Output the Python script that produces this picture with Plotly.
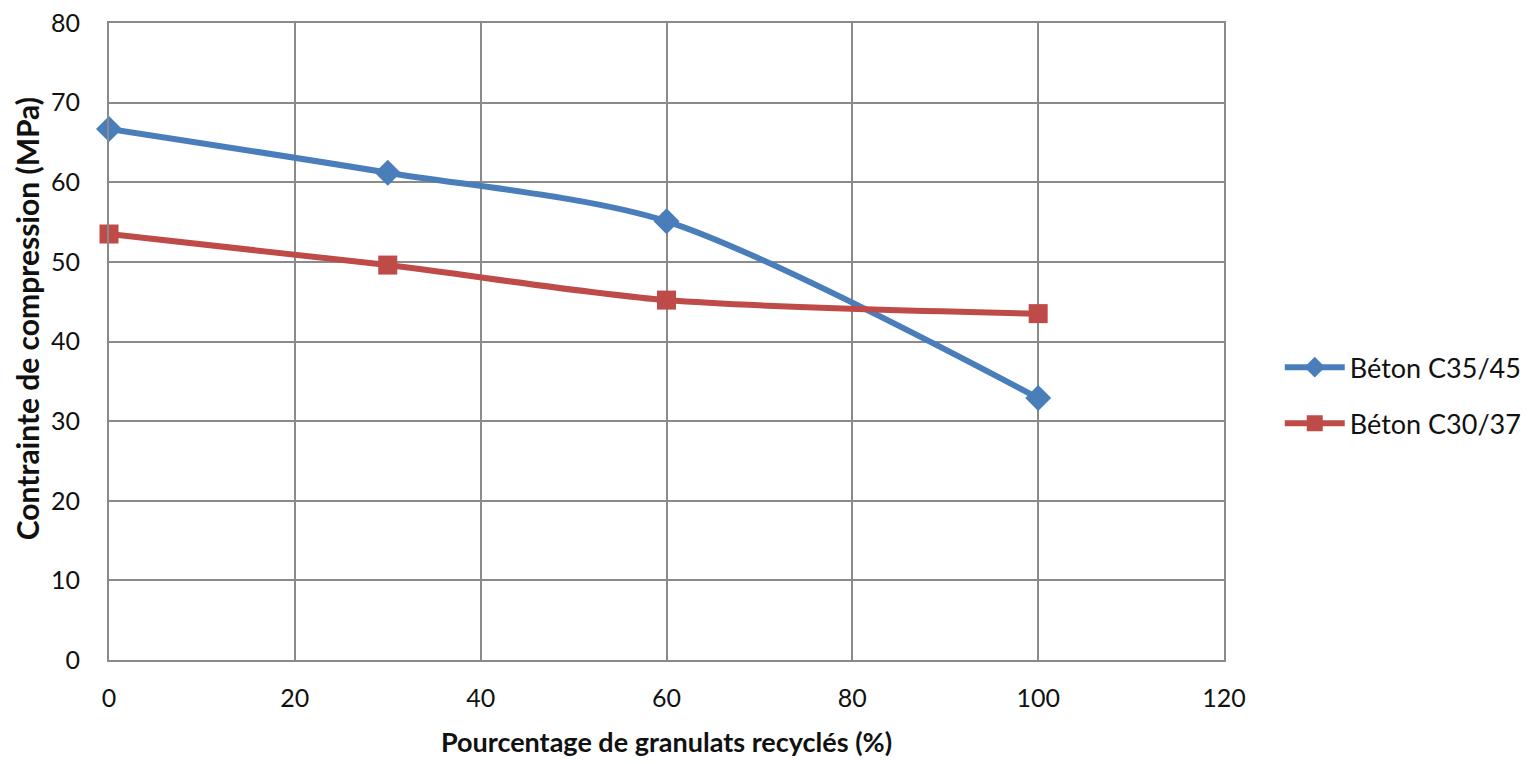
import plotly.graph_objects as go

# Pourcentage de granulats recyclés (%)
pourcentage = [0, 30, 60, 100]

# Contrainte de compression (MPa)
beton_c35_45 = [66.7, 61.2, 55.1, 32.9]
beton_c30_37 = [53.5, 49.6, 45.2, 43.5]

x_ticks = [0, 20, 40, 60, 80, 100, 120]
y_ticks = [0, 10, 20, 30, 40, 50, 60, 70, 80]

BLUE = "#4a7ebb"
RED = "#be4b48"
GRID = "#8a8a8a"
FONT = "Lato, 'Open Sans', sans-serif"

fig = go.Figure()
fig.add_trace(go.Scatter(
    x=pourcentage, y=beton_c35_45, name="Béton C35/45", legendgroup="a",
    mode="lines+markers", cliponaxis=False,
    line=dict(color=BLUE, width=6, shape="spline", smoothing=0.8),
    marker=dict(symbol="diamond", size=20, color=BLUE),
))
fig.add_trace(go.Scatter(
    x=pourcentage, y=beton_c30_37, name="Béton C30/37", legendgroup="b",
    mode="lines+markers", cliponaxis=False,
    line=dict(color=RED, width=6, shape="spline", smoothing=0.8),
    marker=dict(symbol="square", size=19, color=RED),
))

# Y-axis title, placed as a rotated annotation
fig.add_annotation(
    text="<b>Contrainte de compression (MPa)</b>",
    textangle=-90, xref="paper", yref="paper",
    x=-0.0735, y=0.535, xanchor="center", yanchor="middle",
    showarrow=False, font=dict(size=30),
)

fig.update_layout(
    width=1528, height=764,
    margin=dict(l=109, r=304, t=23, b=104, autoexpand=False),
    paper_bgcolor="white", plot_bgcolor="white",
    font=dict(family=FONT, size=25, color="#111111"),
    legend=dict(x=1.05, xanchor="left", y=0.415, yanchor="middle",
                font=dict(size=27), traceorder="grouped", tracegroupgap=18,
                itemwidth=60, bgcolor="rgba(0,0,0,0)"),
    xaxis=dict(
        range=[0, 120], tickvals=x_ticks, ticks="", ticklabelstandoff=15,
        showgrid=True, gridcolor=GRID, gridwidth=2,
        showline=True, linecolor=GRID, linewidth=2, mirror=True,
        zeroline=False,
        title=dict(text="<b>Pourcentage de granulats recyclés (%)</b>",
                   font=dict(size=27), standoff=22),
    ),
    yaxis=dict(
        range=[0, 80], tickvals=y_ticks, ticks="", ticklabelstandoff=22,
        showgrid=True, gridcolor=GRID, gridwidth=2,
        showline=True, linecolor=GRID, linewidth=2, mirror=True,
        zeroline=False,
    ),
)

fig.write_html("out.html")
